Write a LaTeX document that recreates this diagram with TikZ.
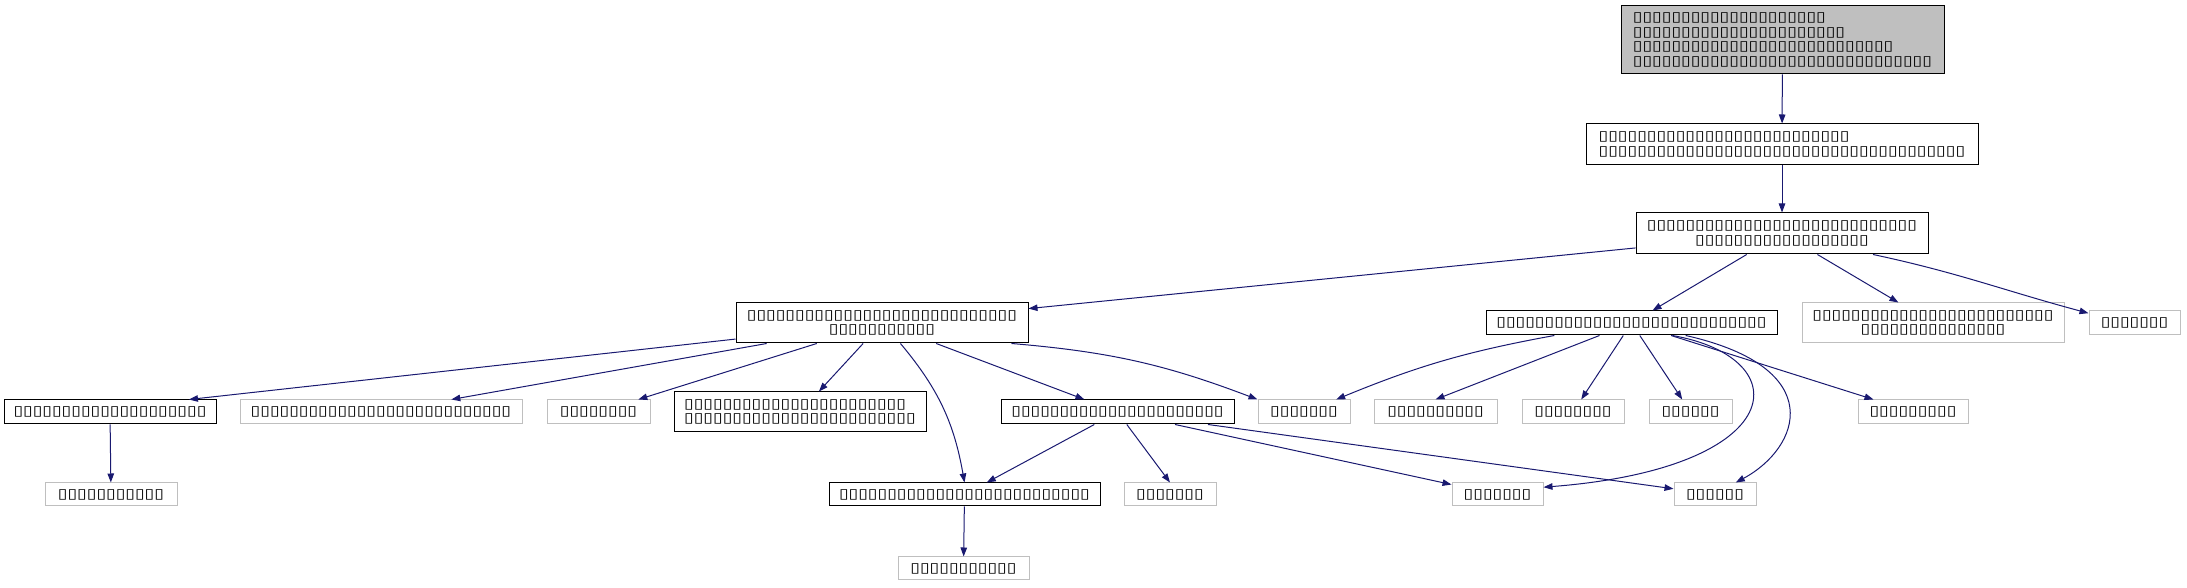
\documentclass[tikz,border=0pt]{standalone}
\usepackage{fontspec}
\usepackage{tikz}
\usetikzlibrary{arrows.meta}
\newfontfamily\tofufont[FakeStretch=1.28]{DejaVu Sans}
\definecolor{edgeblue}{HTML}{191970}
\definecolor{rootgray}{HTML}{BFBFBF}
\definecolor{extgray}{HTML}{BFBFBF}
\tikzset{
  every node/.style={font=\tofufont\fontsize{13.7}{14.7}\selectfont, inner sep=0pt},
  cls/.style={draw=black, line width=1pt, fill=white, minimum height=24pt},
  ext/.style={draw=extgray, line width=1pt, fill=white, minimum height=23pt},
  rootcls/.style={draw=black, line width=1pt, fill=rootgray},
  dep/.style={draw=edgeblue, line width=1pt, -{Triangle[length=9pt,width=6.5pt]}}
}
\begin{document}
\begin{tikzpicture}[x=1pt,y=1pt]
\useasboundingbox (0,0) rectangle (2187,588);
\node[rootcls, minimum width=323pt, minimum height=68pt, align=left] (Node1) at (1782.5,548) {▯▯▯▯▯▯▯▯▯▯▯▯▯▯▯▯▯▯▯▯\\▯▯▯▯▯▯▯▯▯▯▯▯▯▯▯▯▯▯▯▯▯▯\\▯▯▯▯▯▯▯▯▯▯▯▯▯▯▯▯▯▯▯▯▯▯▯▯▯▯▯\\▯▯▯▯▯▯▯▯▯▯▯▯▯▯▯▯▯▯▯▯▯▯▯▯▯▯▯▯▯▯▯};
\node[cls, minimum width=392pt, minimum height=41pt, align=left] (Node2) at (1782,443.5) {▯▯▯▯▯▯▯▯▯▯▯▯▯▯▯▯▯▯▯▯▯▯▯▯▯▯\\▯▯▯▯▯▯▯▯▯▯▯▯▯▯▯▯▯▯▯▯▯▯▯▯▯▯▯▯▯▯▯▯▯▯▯▯▯▯};
\node[cls, minimum width=292pt, minimum height=41pt, align=center] (Node3) at (1782,354.5) {▯▯▯▯▯▯▯▯▯▯▯▯▯▯▯▯▯▯▯▯▯▯▯▯▯▯▯▯\\▯▯▯▯▯▯▯▯▯▯▯▯▯▯▯▯▯▯};
\node[cls, minimum width=292pt, minimum height=40pt, align=center] (Node4) at (882,265) {▯▯▯▯▯▯▯▯▯▯▯▯▯▯▯▯▯▯▯▯▯▯▯▯▯▯▯▯\\▯▯▯▯▯▯▯▯▯▯▯};
\node[cls, minimum width=291pt] (Node5) at (1631.5,265) {▯▯▯▯▯▯▯▯▯▯▯▯▯▯▯▯▯▯▯▯▯▯▯▯▯▯▯▯};
\node[ext, minimum width=262pt, minimum height=40pt, align=center] (Node6) at (1933,265) {▯▯▯▯▯▯▯▯▯▯▯▯▯▯▯▯▯▯▯▯▯▯▯▯▯\\▯▯▯▯▯▯▯▯▯▯▯▯▯▯▯};
\node[ext, minimum width=91pt, minimum height=24pt] (Node7) at (2134.5,265) {▯▯▯▯▯▯▯};
\node[cls, minimum width=212pt] (Node8) at (110,176) {▯▯▯▯▯▯▯▯▯▯▯▯▯▯▯▯▯▯▯▯};
\node[ext, minimum width=282pt, minimum height=24pt] (Node9) at (381,176) {▯▯▯▯▯▯▯▯▯▯▯▯▯▯▯▯▯▯▯▯▯▯▯▯▯▯▯};
\node[ext, minimum width=103pt, minimum height=24pt] (Node10) at (598.5,176) {▯▯▯▯▯▯▯▯};
\node[cls, minimum width=252pt, minimum height=40pt, align=left] (Node11) at (800,176) {▯▯▯▯▯▯▯▯▯▯▯▯▯▯▯▯▯▯▯▯▯▯▯\\▯▯▯▯▯▯▯▯▯▯▯▯▯▯▯▯▯▯▯▯▯▯▯▯};
\node[cls, minimum width=233pt] (Node12) at (1117.5,176) {▯▯▯▯▯▯▯▯▯▯▯▯▯▯▯▯▯▯▯▯▯▯};
\node[ext, minimum width=92pt, minimum height=24pt] (Node13) at (1304,176) {▯▯▯▯▯▯▯};
\node[ext, minimum width=123pt, minimum height=24pt] (Node14) at (1435.5,176) {▯▯▯▯▯▯▯▯▯▯};
\node[ext, minimum width=102pt, minimum height=24pt] (Node15) at (1573,176) {▯▯▯▯▯▯▯▯};
\node[ext, minimum width=83pt, minimum height=24pt] (Node16) at (1690.5,176) {▯▯▯▯▯▯};
\node[ext, minimum width=110pt, minimum height=24pt] (Node17) at (1913,176) {▯▯▯▯▯▯▯▯▯};
\node[ext, minimum width=132pt] (Node18) at (111,93.5) {▯▯▯▯▯▯▯▯▯▯▯};
\node[cls, minimum width=271pt, minimum height=23pt] (Node19) at (964.5,93.5) {▯▯▯▯▯▯▯▯▯▯▯▯▯▯▯▯▯▯▯▯▯▯▯▯▯▯};
\node[ext, minimum width=92pt] (Node20) at (1170,93.5) {▯▯▯▯▯▯▯};
\node[ext, minimum width=91pt] (Node21) at (1497.5,93.5) {▯▯▯▯▯▯▯};
\node[ext, minimum width=82pt] (Node22) at (1715,93.5) {▯▯▯▯▯▯};
\node[ext, minimum width=131pt] (Node23) at (963.5,19.5) {▯▯▯▯▯▯▯▯▯▯▯};
\draw[dep] (Node1) -- (Node2);
\draw[dep] (Node2) -- (Node3);
\draw[dep] (Node3) -- (Node4);
\draw[dep] (Node3) -- (Node5);
\draw[dep] (Node3) -- (Node6);
\draw[dep] (Node3.-13) to[out=-12,in=165] (Node7.168);
\draw[dep] (Node4) -- (Node8.9);
\draw[dep] (Node4) -- (Node9);
\draw[dep] (Node4) -- (Node10);
\draw[dep] (Node4) -- (Node11);
\draw[dep] (Node4) -- (Node12);
\draw[dep] (Node4.-9) to[bend left=8] (Node13.north west);
\draw[dep] (Node4.-48) to[out=-50,in=100] (Node19.north);
\draw[dep] (Node5) to[bend right=6] (Node13);
\draw[dep] (Node5) -- (Node14.north);
\draw[dep] (Node5) -- (Node15);
\draw[dep] (Node5) -- (Node16);
\draw[dep] (Node5) -- (Node17);
\draw[dep] (Node5.-17) .. controls (1800,230) and (1790,120) .. (Node21.9);
\draw[dep] (Node5.-13) .. controls (1830,220) and (1800,140) .. (Node22.30);
\draw[dep] (Node12) -- (Node19);
\draw[dep] (Node12) -- (Node20.north);
\draw[dep] (Node12) -- (Node21);
\draw[dep] (Node12) -- (Node22);
\draw[dep] (Node8) -- (Node18);
\draw[dep] (Node19) -- (Node23);
\end{tikzpicture}
\end{document}
